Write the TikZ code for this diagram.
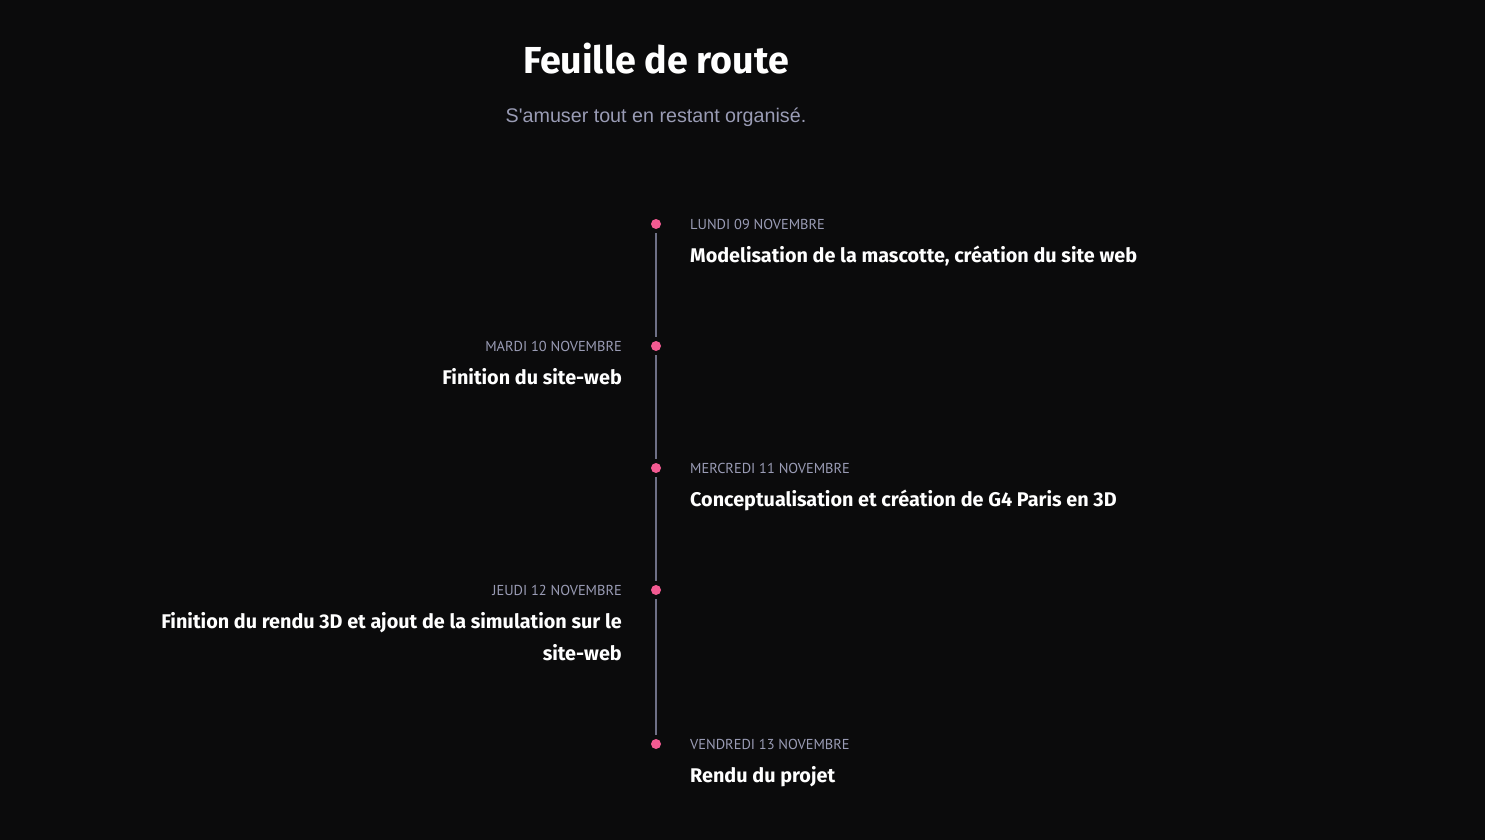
\documentclass[tikz,border=0pt]{standalone}
\usepackage{fontspec}
\setmainfont{Fira Sans}
\newfontfamily\datefont{PT Sans}
\newfontfamily\subfont{Liberation Sans}
\usetikzlibrary{positioning}

\definecolor{bgdark}{HTML}{0B0B0C}
\definecolor{pinkdot}{HTML}{F35A92}
\definecolor{greytext}{HTML}{9A9CB5}
\definecolor{railgrey}{HTML}{6E7086}

\begin{document}
\begin{tikzpicture}[
    x=1pt, y=-1pt,
    dot/.style={circle, fill=pinkdot, inner sep=0pt, minimum size=10pt},
    datelabel/.style={text=greytext, font=\datefont\fontsize{14.4}{16}\selectfont, inner sep=0pt},
    tasklabel/.style={text=white, font=\bfseries\fontsize{19.8}{32}\selectfont, inner sep=0pt, align=right},
    rail/.style={draw=railgrey, line width=2pt, shorten <=4pt, shorten >=4pt}
]

    % Background
    \fill[bgdark] (0,0) rectangle (1485,840);

    % Header
    \node[text=white, font=\bfseries\fontsize{37.6}{44}\selectfont, anchor=base] (title) at (656,74) {Feuille de route};
    \node[text=greytext, font=\subfont\fontsize{19.7}{24}\selectfont, anchor=base] (subtitle) at (656,123) {S'amuser tout en restant organisé.};

    % Dots on the timeline
    \foreach \i/\y in {1/224, 2/346, 3/468, 4/590, 5/744} {
        \node[dot] (dot\i) at (656,\y) {};
    }

    % Rail between dots
    \foreach \i in {1,2,3,4} {
        \pgfmathtruncatemacro{\next}{\i+1}
        \draw[rail] (dot\i) -- (dot\next);
    }

    % Right side entries
    \node[datelabel, anchor=base west] (date1) at (690,229) {LUNDI 09 NOVEMBRE};
    \node[tasklabel, anchor=base west] (task1) at (690,262) {Modelisation de la mascotte, création du site web};

    \node[datelabel, anchor=base west] (date3) at (690,473) {MERCREDI 11 NOVEMBRE};
    \node[tasklabel, anchor=base west] (task3) at (690,506) {Conceptualisation et création de G4 Paris en 3D};

    \node[datelabel, anchor=base west] (date5) at (690,749) {VENDREDI 13 NOVEMBRE};
    \node[tasklabel, anchor=base west] (task5) at (690,782) {Rendu du projet};

    % Left side entries
    \node[datelabel, anchor=base east] (date2) at (622,351) {MARDI 10 NOVEMBRE};
    \node[tasklabel, anchor=base east] (task2) at (622,384) {Finition du site-web};

    \node[datelabel, anchor=base east] (date4) at (622,595) {JEUDI 12 NOVEMBRE};
    \node[tasklabel, anchor=base east] (task4) at (622,660) {Finition du rendu 3D et ajout de la simulation sur le\\site-web};

\end{tikzpicture}
\end{document}
